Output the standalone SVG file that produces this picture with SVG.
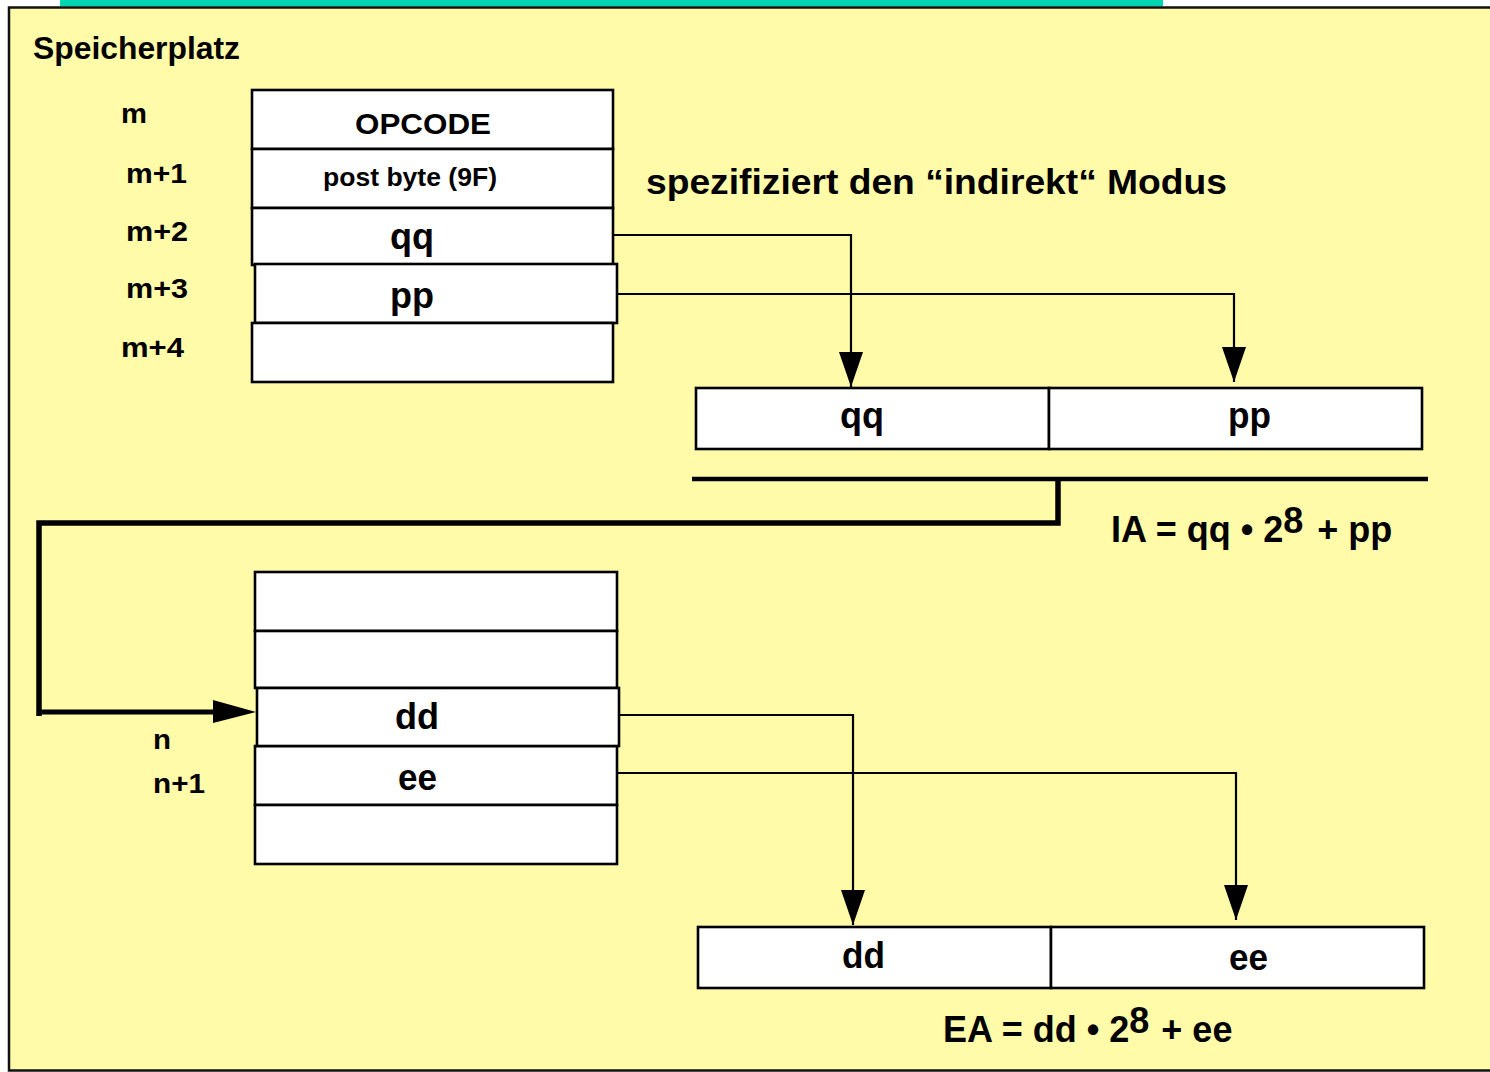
<svg xmlns="http://www.w3.org/2000/svg" width="1490" height="1072" viewBox="0 0 1490 1072">
  <defs>
    <style>
      .panel { fill: #FFFBA8; stroke: #111; stroke-width: 2.5; }
      .cell { fill: #FFFFFF; stroke: #000; stroke-width: 2.6; }
      .wire { fill: none; stroke: #000; stroke-width: 2.2; }
      .bus { fill: none; stroke: #000; stroke-width: 5.5; stroke-linejoin: miter; }
      text { font-family: "Liberation Sans", Arial, Helvetica, sans-serif; font-weight: bold; fill: #000; }
      .lbl { font-size: 28px; }
      .big { font-size: 36px; }
    </style>
    <!-- filled triangular head, drawn along +x so orient="auto" follows the line -->
    <marker id="arrowHead" markerWidth="35" markerHeight="24" refX="35" refY="12" orient="auto" markerUnits="userSpaceOnUse" viewBox="0 0 35 24">
      <path d="M0,0 L35,12 L0,24 Z" fill="#000"/>
    </marker>
  </defs>

  <!-- page background and title band -->
  <rect x="0" y="0" width="1490" height="1072" fill="#FFFFFF"/>
  <rect x="60" y="0" width="1103" height="6.5" fill="#00D4B0"/>
  <rect class="panel" x="9" y="7.5" width="1500" height="1063"/>

  <text x="33" y="59" style="font-size:31px" textLength="207" lengthAdjust="spacingAndGlyphs">Speicherplatz</text>

  <!-- address labels -->
  <g id="addr-labels">
    <text class="lbl" x="121" y="123" textLength="26" lengthAdjust="spacingAndGlyphs">m</text>
    <text class="lbl" x="126" y="183" textLength="61" lengthAdjust="spacingAndGlyphs">m+1</text>
    <text class="lbl" x="126" y="241" textLength="62" lengthAdjust="spacingAndGlyphs">m+2</text>
    <text class="lbl" x="126" y="298" textLength="62" lengthAdjust="spacingAndGlyphs">m+3</text>
    <text class="lbl" x="121" y="357" textLength="63" lengthAdjust="spacingAndGlyphs">m+4</text>
    <text class="lbl" x="153" y="749" textLength="18" lengthAdjust="spacingAndGlyphs">n</text>
    <text class="lbl" x="153" y="793" textLength="52" lengthAdjust="spacingAndGlyphs">n+1</text>
  </g>

  <!-- instruction bytes at m .. m+4 -->
  <g id="instr-opcode">
    <rect class="cell" x="252" y="90" width="361" height="59"/>
    <text x="355" y="134" style="font-size:30px" textLength="136" lengthAdjust="spacingAndGlyphs">OPCODE</text>
  </g>
  <g id="instr-postbyte">
    <rect class="cell" x="252" y="149" width="361" height="59"/>
    <text x="323" y="186" style="font-size:25px" textLength="174" lengthAdjust="spacingAndGlyphs">post byte (9F)</text>
  </g>
  <g id="instr-qq">
    <rect class="cell" x="252" y="208" width="361" height="57"/>
    <text class="big" x="390" y="249" textLength="44" lengthAdjust="spacingAndGlyphs">qq</text>
  </g>
  <g id="instr-pp">
    <rect class="cell" x="255" y="264" width="362" height="59"/>
    <text class="big" x="390" y="308" textLength="44" lengthAdjust="spacingAndGlyphs">pp</text>
  </g>
  <g id="instr-m4">
    <rect class="cell" x="252" y="323" width="361" height="59"/>
  </g>

  <text id="mode-note" x="646" y="194" style="font-size:35px" textLength="581" lengthAdjust="spacingAndGlyphs">spezifiziert den “indirekt“ Modus</text>

  <!-- indirect address register -->
  <g id="ia-word">
    <rect class="cell" x="696" y="388" width="353" height="61"/>
    <rect class="cell" x="1049" y="388" width="373" height="61"/>
    <text class="big" x="840" y="428" textLength="44" lengthAdjust="spacingAndGlyphs">qq</text>
    <text class="big" x="1228" y="428" textLength="43" lengthAdjust="spacingAndGlyphs">pp</text>
  </g>

  <g id="ia-formula">
    <text class="big" x="1111" y="542">IA = qq • 2<tspan dx="0" dy="-9">8</tspan><tspan dx="4" dy="9"> + pp</tspan></text>
  </g>

  <!-- memory bytes at n .. -->
  <g id="mem-blank1">
    <rect class="cell" x="255" y="572" width="362" height="59"/>
  </g>
  <g id="mem-blank2">
    <rect class="cell" x="255" y="631" width="362" height="57"/>
  </g>
  <g id="mem-ee">
    <rect class="cell" x="255" y="746" width="362" height="59"/>
    <text class="big" x="398" y="790" textLength="39" lengthAdjust="spacingAndGlyphs">ee</text>
  </g>
  <g id="mem-dd">
    <rect class="cell" x="257" y="688" width="362" height="58"/>
    <text class="big" x="395" y="729" textLength="44" lengthAdjust="spacingAndGlyphs">dd</text>
  </g>
  <g id="mem-blank3">
    <rect class="cell" x="255" y="805" width="362" height="59"/>
  </g>

  <!-- effective address register -->
  <g id="ea-word">
    <rect class="cell" x="698" y="927" width="353" height="61"/>
    <rect class="cell" x="1051" y="927" width="373" height="61"/>
    <text class="big" x="842" y="968" textLength="43" lengthAdjust="spacingAndGlyphs">dd</text>
    <text class="big" x="1229" y="970" textLength="39" lengthAdjust="spacingAndGlyphs">ee</text>
  </g>

  <g id="ea-formula">
    <text class="big" x="943" y="1042">EA = dd • 2<tspan dx="0" dy="-9">8</tspan><tspan dx="2" dy="9"> + ee</tspan></text>
  </g>

  <!-- connectors -->
  <g id="connectors">
    <polyline class="wire" points="614,235 851,235 851,387" marker-end="url(#arrowHead)"/>
    <polyline class="wire" points="618,294 1234,294 1234,382" marker-end="url(#arrowHead)"/>
    <line x1="692" y1="479" x2="1428" y2="479" stroke="#000" stroke-width="4.5"/>
    <polyline class="bus" points="1058,477 1058,523 39,523 39,716"/>
    <line x1="37" y1="712" x2="215" y2="712" stroke="#000" stroke-width="5"/>
    <path d="M213,700 L256,712 L213,723 Z" fill="#000"/>
    <polyline class="wire" points="620,715 853,715 853,925" marker-end="url(#arrowHead)"/>
    <polyline class="wire" points="618,773 1236,773 1236,920" marker-end="url(#arrowHead)"/>
  </g>
</svg>
